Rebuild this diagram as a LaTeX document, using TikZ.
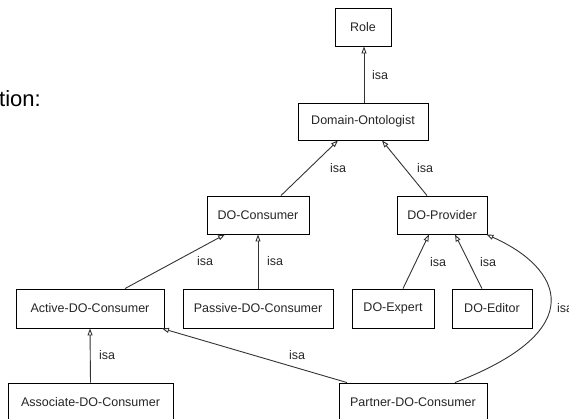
\documentclass[tikz,border=0pt]{standalone}
\usepackage{fontspec}
\setmainfont{Liberation Sans}
\usetikzlibrary{arrows.meta}
\definecolor{edgegray}{HTML}{333333}
\tikzset{
  cls/.style={draw=black, line width=0.9pt, fill=white, inner sep=0pt,
    minimum height=38pt, font=\fontsize{12.5}{14}\selectfont, text=black!85},
  isa/.style={draw=edgegray, line width=0.9pt,
    -{Triangle[open, length=7pt, width=5pt]}},
  lbl/.style={font=\fontsize{12.5}{14}\selectfont, text=black!85, inner sep=0pt}
}
\begin{document}
\begin{tikzpicture}[x=1pt, y=-1pt]
\useasboundingbox (0,0) rectangle (569,418);
\clip (0,0) rectangle (569,418);

\node[anchor=base west, inner sep=0pt, font=\fontsize{22}{24}\selectfont] (title) at (-1,106) {tion:};

\node[cls, minimum width=56pt] (role) at (363,27) {Role};
\node[cls, minimum width=130pt, minimum height=37pt] (dont) at (363,121.5) {Domain-Ontologist};
\node[cls, minimum width=102pt] (dcons) at (258,215) {DO-Consumer};
\node[cls, minimum width=90pt] (dprov) at (442,215) {DO-Provider};
\node[cls, minimum width=148pt, minimum height=39pt] (active) at (90,308.5) {Active-DO-Consumer};
\node[cls, minimum width=150pt, minimum height=39pt] (passive) at (258,308.5) {Passive-DO-Consumer};
\node[cls, minimum width=82pt, minimum height=39pt] (expert) at (393,308.5) {DO-Expert};
\node[cls, minimum width=80pt, minimum height=39pt] (editor) at (492,308.5) {DO-Editor};
\node[cls, minimum width=165pt] (assoc) at (90.5,402) {Associate-DO-Consumer};
\node[cls, minimum width=148pt] (partner) at (413,402) {Partner-DO-Consumer};

\draw[isa] ([xshift=1pt]dont.north) -- ([xshift=1pt]role.south);
\node[lbl] (l1) at (380,75) {isa};

\draw[isa] ([xshift=23pt]dcons.north) -- ([xshift=-25pt]dont.south);
\node[lbl] (l2) at (338,168) {isa};

\draw[isa] ([xshift=-15pt]dprov.north) -- ([xshift=19pt]dont.south);
\node[lbl] (l3) at (425,168) {isa};

\draw[isa] ([xshift=35pt]active.north) -- ([xshift=-33pt]dcons.south);
\node[lbl] (l4) at (205,261) {isa};

\draw[isa] (passive.north) -- (dcons.south);
\node[lbl] (l5) at (275,261) {isa};

\draw[isa] ([xshift=10pt]expert.north) -- ([xshift=-13pt]dprov.south);
\node[lbl] (l6) at (438,262) {isa};

\draw[isa] ([xshift=-10pt]editor.north) -- ([xshift=13pt]dprov.south);
\node[lbl] (l7) at (488,262) {isa};

\draw[isa] (assoc.north) -- (active.south);
\node[lbl] (l8) at (107,355) {isa};

\draw[isa] ([xshift=-66pt]partner.north) -- ([xshift=72pt]active.south);
\node[lbl] (l9) at (297,355) {isa};

\draw[isa] ([xshift=42pt]partner.north) .. controls (592,330) and (562,268) .. ([xshift=-1pt]dprov.south east);
\node[lbl, anchor=west] (l10) at (557,308) {isa};
\end{tikzpicture}
\end{document}
